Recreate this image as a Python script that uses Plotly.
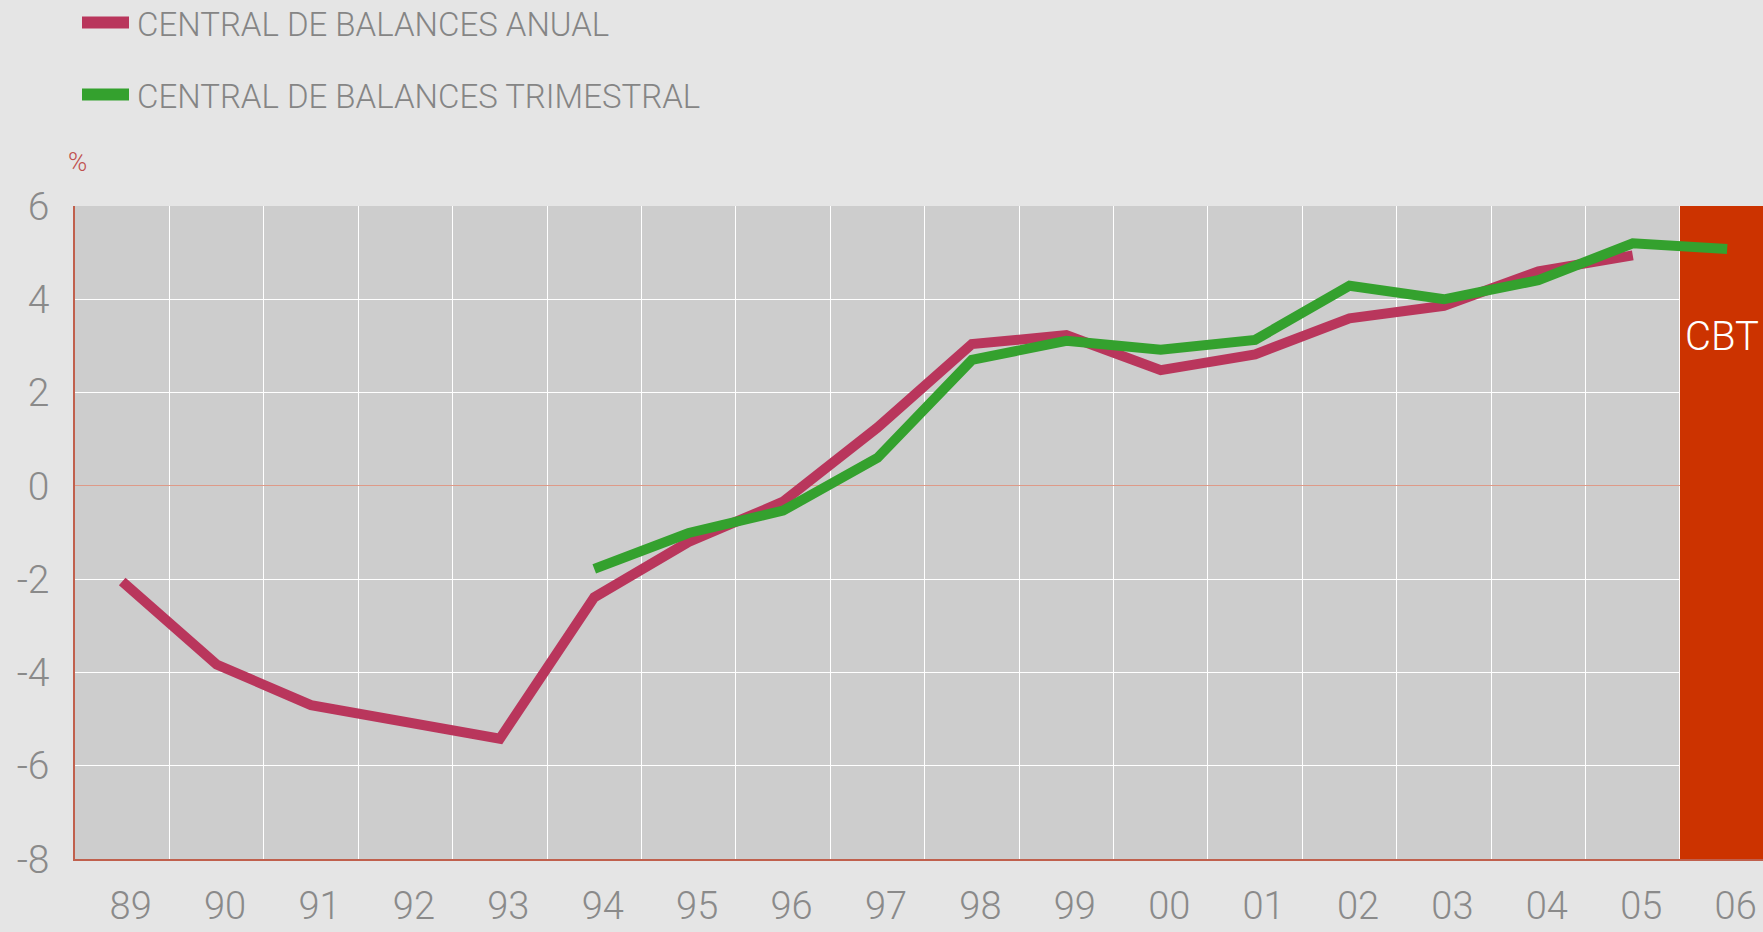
import plotly.graph_objects as go

# categories (years) and series
years = ["89", "90", "91", "92", "93", "94", "95", "96", "97",
         "98", "99", "00", "01", "02", "03", "04", "05", "06"]
anual = [-2.05, -3.83, -4.70, -5.08, -5.42, -2.39, -1.20, -0.34, 1.25,
         3.04, 3.23, 2.48, 2.82, 3.59, 3.86, 4.60, 4.94, None]
trimestral = [None, None, None, None, None, -1.78, -1.01, -0.53, 0.60,
              2.70, 3.11, 2.92, 3.13, 4.29, 4.00, 4.41, 5.20, 5.08]
y_ticks = [-8, -6, -4, -2, 0, 2, 4, 6]
series_names = ["CENTRAL DE BALANCES ANUAL", "CENTRAL DE BALANCES TRIMESTRAL"]

RED = "#B9365C"
GREEN = "#34A12E"
CBT_RED = "#CC3300"
GREY_TXT = "#8A8A8A"
FONT = "Roboto"

W, H = 1763, 932
L, T, B = 75, 206, 73
PW, PH = W - L, H - T - B

def px_x(x):  # pixel -> paper
    return (x - L) / PW

def px_y(y):
    return (H - B - y) / PH

idx = list(range(len(years)))

fig = go.Figure()
fig.add_trace(go.Scatter(x=idx, y=anual, mode="lines", name=series_names[0],
                         line=dict(color=RED, width=10), connectgaps=False))
fig.add_trace(go.Scatter(x=idx, y=trimestral, mode="lines", name=series_names[1],
                         line=dict(color=GREEN, width=10), connectgaps=False))

# CBT band (last year)
fig.add_shape(type="rect", xref="x", yref="y", x0=len(years) - 1.5, x1=len(years) + 2,
              y0=y_ticks[0], y1=y_ticks[-1], fillcolor=CBT_RED, line_width=0, layer="between")
fig.add_annotation(x=len(years) - 1.47, y=3.2, xref="x", yref="y", text="CBT",
                   showarrow=False, xanchor="left", yanchor="middle",
                   font=dict(family=FONT, size=40, color="white", weight=300))

# legend drawn by hand
for i, (nm, col) in enumerate(zip(series_names, [RED, GREEN])):
    cy = 22.5 + i * 72
    fig.add_shape(type="rect", xref="paper", yref="paper",
                  x0=px_x(82), x1=px_x(129), y0=px_y(cy + 6), y1=px_y(cy - 6),
                  fillcolor=col, line_width=0)
    fig.add_annotation(x=px_x(135), y=px_y(cy + 2), xref="paper", yref="paper", text=nm,
                       showarrow=False, xanchor="left", yanchor="middle",
                       font=dict(family=FONT, size=33, color="#858585", weight=300))

fig.add_annotation(x=px_x(77), y=px_y(162), xref="paper", yref="paper", text="%",
                   showarrow=False, xanchor="center", yanchor="middle",
                   font=dict(family=FONT, size=26, color="#C0504D", weight=300))

fig.update_xaxes(range=[-0.5, -0.5 + PW / 94.41], automargin=False,
                 tickmode="array", tickvals=[i + 0.09 for i in idx], ticktext=years,
                 showgrid=False, zeroline=False,
                 showline=True, linecolor="#C0604D", linewidth=1.5,
                 ticks="", ticklabelstandoff=13,
                 tickfont=dict(family=FONT, size=38, color=GREY_TXT, weight=300),
                 minor=dict(tickmode="array", tickvals=[i + 0.5 for i in idx[:-1]],
                            showgrid=True, gridcolor="white", gridwidth=1.2, ticks=""))
fig.update_yaxes(range=[y_ticks[0], y_ticks[-1]], automargin=False,
                 tickmode="array", tickvals=y_ticks, ticktext=[str(v) for v in y_ticks],
                 showgrid=True, gridcolor="white", gridwidth=1.2,
                 zeroline=True, zerolinecolor="#DE9A88", zerolinewidth=1,
                 showline=True, linecolor="#C0604D", linewidth=1.5,
                 ticks="", ticklabelstandoff=16,
                 tickfont=dict(family=FONT, size=39, color=GREY_TXT, weight=300))

fig.update_layout(width=W, height=H, margin=dict(l=L, r=0, t=T, b=B),
                  paper_bgcolor="#E5E5E5", plot_bgcolor="#CDCDCD",
                  showlegend=False)

fig.write_html("out.html", config={"displayModeBar": False},
               post_script="document.body.style.margin='0';")
